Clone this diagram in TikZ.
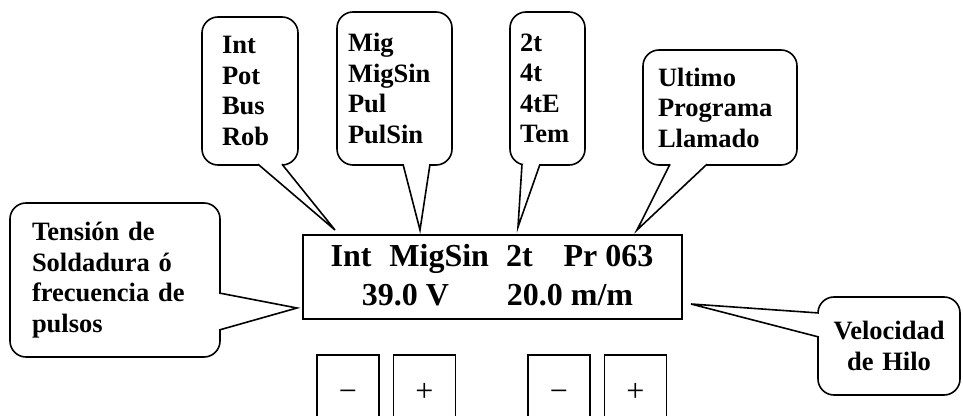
\documentclass[tikz,border=0pt]{standalone}
\usepackage{fontspec}
\setmainfont{Liberation Serif}
\usetikzlibrary{calc}

\begin{document}
\begin{tikzpicture}[
    x=1pt, y=1pt,
    bubble/.style={
        draw,
        line width=1.6pt,
        rounded corners=16pt,
        outer sep=0pt,
        inner ysep=0pt,
        align=left,
        font=\fontsize{26.5}{30.5}\selectfont\bfseries
    },
    tail/.style={
        draw,
        fill=white,
        line width=1.6pt
    },
    screen/.style={
        draw,
        line width=1.8pt,
        outer sep=0pt,
        minimum width=379pt,
        minimum height=84pt
    },
    screentext/.style={
        anchor=base,
        inner sep=0pt,
        font=\fontsize{32}{38}\selectfont\bfseries
    },
    keybox/.style={
        draw,
        line width=1.8pt,
        inner sep=0pt,
        minimum width=62pt,
        minimum height=75pt,
        text height=18pt,
        text depth=0pt,
        font=\fontsize{32}{36}\selectfont
    }
]

\useasboundingbox (0,0) rectangle (963,415);
\clip (0,0) rectangle (963,415);

\node[bubble, minimum width=96pt, minimum height=148pt, text width=56pt, inner xsep=20pt] (modo) at (250,324) {
Int\\Pot\\Bus\\Rob
};

\node[bubble, minimum width=115pt, minimum height=153pt, text width=93pt, inner xsep=11pt] (proceso) at (394.5,326.5) {
Mig\\MigSin\\Pul\\PulSin
};

\node[bubble, minimum width=75pt, minimum height=153pt, text width=55pt, inner xsep=10pt] (gatillo) at (547.5,326.5) {
2t\\4t\\4tE\\Tem
};

\node[bubble, minimum width=154pt, minimum height=115pt, text width=124pt, inner xsep=15pt] (prog) at (720,307.5) {
Ultimo\\Programa\\Llamado
};

\node[bubble, minimum width=210pt, minimum height=154pt, text width=166pt, inner xsep=22pt] (tension) at (115,135) {
Tensión de\\Soldadura ó\\frecuencia de\\pulsos
};

\node[bubble, align=center, minimum width=142pt, minimum height=98pt, text width=122pt, inner xsep=10pt] (hilo) at (889,69) {
Velocidad\\de Hilo
};

\node[screen] (disp) at (492.5,138) {};

\node[screentext] (fila1) at (492,148) {Int\hspace{10pt} MigSin\hspace{9pt} 2t\hspace{23pt} Pr 063};
\node[screentext] (fila2) at (497.5,110) {39.0 V\hspace{50pt} 20.0 m/m};

\node[keybox] (tmenos) at (348,22.5) {−};
\node[keybox] (tmas) at (424.5,22.5) {+};
\node[keybox] (hmenos) at (559,22.5) {−};
\node[keybox] (hmas) at (635.5,22.5) {+};

\coordinate (pmodo) at ($(disp.north west)+(32,5)$);
\coordinate (pproceso) at ($(disp.north west)+(117,5)$);
\coordinate (pgatillo) at ($(disp.north west)+(215,8)$);
\coordinate (pprog) at ($(disp.north west)+(334,5)$);
\coordinate (ptension) at ($(disp.south west)+(-6,11)$);
\coordinate (philo) at ($(disp.south east)+(9,15)$);

\draw[tail] ($(modo.south west)+(56,0.8)$) -- (pmodo) -- ($(modo.south west)+(80,0.8)$);
\draw[tail] ($(proceso.south west)+(66,0.8)$) -- (pproceso) -- ($(proceso.south west)+(93,0.8)$);
\draw[tail] ($(gatillo.south west)+(12,0.8)$) -- (pgatillo) -- ($(gatillo.south west)+(30,0.8)$);
\draw[tail] ($(prog.south west)+(27,0.8)$) -- (pprog) -- ($(prog.south west)+(64,0.8)$);
\draw[tail] ($(tension.south east)+(-0.8,64)$) -- (ptension) -- ($(tension.south east)+(-0.8,27)$);
\draw[tail] ($(hilo.south west)+(0.8,82)$) -- (philo) -- ($(hilo.south west)+(0.8,58)$);

\end{tikzpicture}
\end{document}
